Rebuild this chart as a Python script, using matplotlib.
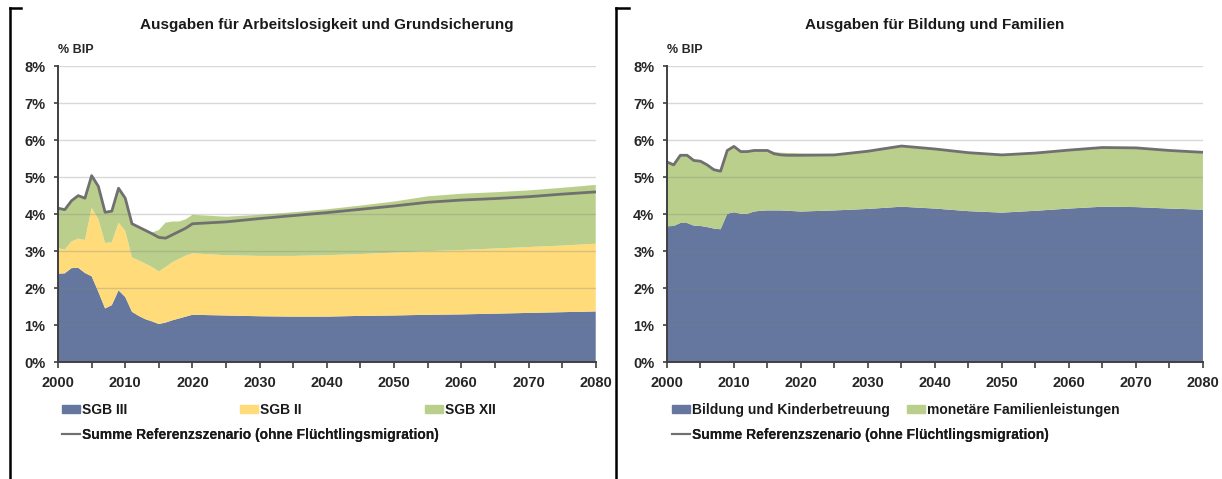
import matplotlib
matplotlib.use("Agg")
import matplotlib.pyplot as plt
from matplotlib import ticker
from matplotlib.lines import Line2D
from matplotlib.patches import Patch

plt.rcParams['font.family'] = ['Liberation Sans', 'DejaVu Sans']

# left panel: unemployment and basic income support (% of GDP)
years_l = list(range(2000, 2021)) + list(range(2025, 2081, 5))
sgb3 = [2.39, 2.40, 2.54, 2.55, 2.41, 2.32, 1.90, 1.45, 1.54, 1.94, 1.76,
        1.36, 1.25, 1.16, 1.10, 1.03, 1.07, 1.13, 1.18, 1.23, 1.28,
        1.26, 1.24, 1.23, 1.23, 1.25, 1.26, 1.28, 1.29, 1.31, 1.33, 1.35, 1.37]
sgb2 = [0.69, 0.64, 0.72, 0.79, 0.89, 1.85, 1.96, 1.77, 1.70, 1.83, 1.79,
        1.47, 1.50, 1.50, 1.47, 1.42, 1.50, 1.57, 1.61, 1.65, 1.66,
        1.63, 1.63, 1.64, 1.66, 1.67, 1.70, 1.72, 1.74, 1.76, 1.78, 1.80, 1.83]
sgb12 = [1.08, 1.08, 1.10, 1.16, 1.13, 0.87, 0.89, 0.83, 0.84, 0.93, 0.88,
         0.91, 0.90, 0.90, 0.93, 1.12, 1.20, 1.10, 1.01, 0.98, 1.04,
         1.04, 1.11, 1.18, 1.24, 1.31, 1.38, 1.48, 1.52, 1.52, 1.53, 1.56, 1.59]
summe_l = [4.16, 4.12, 4.36, 4.50, 4.43, 5.04, 4.75, 4.05, 4.08, 4.70, 4.43,
           3.74, 3.65, 3.56, 3.47, 3.37, 3.35, 3.44, 3.53, 3.62, 3.74,
           3.79, 3.88, 3.96, 4.04, 4.13, 4.22, 4.32, 4.38, 4.42, 4.47, 4.54, 4.60]

# right panel: education and families (% of GDP)
years_r = list(range(2000, 2021)) + list(range(2025, 2081, 5))
bildung = [3.67, 3.68, 3.76, 3.76, 3.69, 3.68, 3.65, 3.61, 3.59, 4.01, 4.05,
           4.01, 4.01, 4.07, 4.09, 4.10, 4.10, 4.10, 4.09, 4.08, 4.07,
           4.10, 4.14, 4.20, 4.15, 4.08, 4.04, 4.09, 4.15, 4.20, 4.19, 4.15, 4.12]
familie = [1.74, 1.65, 1.83, 1.83, 1.76, 1.75, 1.68, 1.59, 1.57, 1.71, 1.78,
           1.68, 1.68, 1.65, 1.63, 1.62, 1.58, 1.56, 1.56, 1.57, 1.57,
           1.52, 1.56, 1.64, 1.61, 1.58, 1.56, 1.56, 1.58, 1.60, 1.60, 1.57, 1.55]
summe_r = [5.41, 5.33, 5.59, 5.59, 5.45, 5.43, 5.33, 5.20, 5.16, 5.72, 5.83,
           5.69, 5.69, 5.72, 5.72, 5.72, 5.63, 5.60, 5.59, 5.59, 5.59,
           5.60, 5.70, 5.84, 5.76, 5.66, 5.60, 5.65, 5.73, 5.80, 5.79, 5.72, 5.67]

BLUE = '#65779f'
YELLOW = '#ffdb7a'
GREEN = '#bacf8c'
LINE = '#707070'
sum_label = "Summe Referenzszenario (ohne Flüchtlingsmigration)"

fig = plt.figure(figsize=(12.22, 4.79), dpi=100)
ax1 = fig.add_axes([0.0475, 0.244, 0.440, 0.618])
ax2 = fig.add_axes([0.5458, 0.244, 0.4386, 0.618])


def style(ax, title):
    ax.set_xlim(2000, 2080)
    ax.set_ylim(0, 8)
    ax.set_xticks(range(2000, 2081, 10))
    ax.set_xticks(range(2000, 2081, 5), minor=True)
    ax.yaxis.set_major_formatter(ticker.FormatStrFormatter('%d%%'))
    ax.set_yticks(range(0, 9))
    for sp in ['top', 'right']:
        ax.spines[sp].set_visible(False)
    for sp in ['left', 'bottom']:
        ax.spines[sp].set_color('#404040')
        ax.spines[sp].set_linewidth(1.4)
        ax.spines[sp].set_zorder(5)
    ax.tick_params(axis='both', which='both', direction='out', color='#404040',
                   labelsize=10.5, width=1.2)
    ax.tick_params(axis='x', which='both', length=4, pad=6)
    ax.tick_params(axis='y', length=3, pad=6)
    for lab in ax.get_xticklabels() + ax.get_yticklabels():
        lab.set_fontweight('bold')
        lab.set_color('#262626')
    for y in range(1, 9):
        ax.axhline(y, color='#7f7f7f', alpha=0.3, lw=1, zorder=3)
    ax.text(0.0, 1.035, "% BIP", transform=ax.transAxes, fontsize=9,
            fontweight='bold', color='#262626', ha='left', va='bottom')
    ax.set_title(title, fontsize=11, fontweight='bold', color='#1a1a1a', pad=27)


def entry(ax, handle, label, x, y):
    leg = ax.legend([handle], [label], loc='upper left', bbox_to_anchor=(x, y),
                    frameon=False, fontsize=10, handlelength=1.3, handleheight=0.6,
                    handletextpad=0.15, borderpad=0, borderaxespad=0)
    for t in leg.get_texts():
        t.set_fontweight('bold')
        t.set_color('#1a1a1a')
    ax.add_artist(leg)


# Left panel
ax1.stackplot(years_l, sgb3, sgb2, sgb12, colors=[BLUE, YELLOW, GREEN],
              linewidth=0, zorder=1)
ax1.plot(years_l, summe_l, color=LINE, lw=2, zorder=4)
style(ax1, "Ausgaben für Arbeitslosigkeit und Grundsicherung")
entry(ax1, Patch(color=BLUE), "SGB III", 0.008, -0.138)
entry(ax1, Patch(color=YELLOW), "SGB II", 0.338, -0.138)
entry(ax1, Patch(color=GREEN), "SGB XII", 0.682, -0.138)
entry(ax1, Line2D([], [], color=LINE, lw=1.5), sum_label, 0.008, -0.222)

# Right panel
ax2.stackplot(years_r, bildung, familie, colors=[BLUE, GREEN], linewidth=0, zorder=1)
ax2.plot(years_r, summe_r, color=LINE, lw=2, zorder=4)
style(ax2, "Ausgaben für Bildung und Familien")
entry(ax2, Patch(color=BLUE), "Bildung und Kinderbetreuung", 0.009, -0.138)
entry(ax2, Patch(color=GREEN), "monetäre Familienleistungen", 0.448, -0.138)
entry(ax2, Line2D([], [], color=LINE, lw=1.5), sum_label, 0.009, -0.222)

# panel brackets
for x0, x1 in [(10, 21), (616, 629)]:
    fig.add_artist(Line2D([x0 / 1222, x0 / 1222], [1 - 8 / 479, 0], color='black', lw=1.8))
    fig.add_artist(Line2D([x0 / 1222, x1 / 1222], [1 - 8 / 479, 1 - 8 / 479], color='black', lw=1.8))

plt.savefig("out.png", dpi=100)
